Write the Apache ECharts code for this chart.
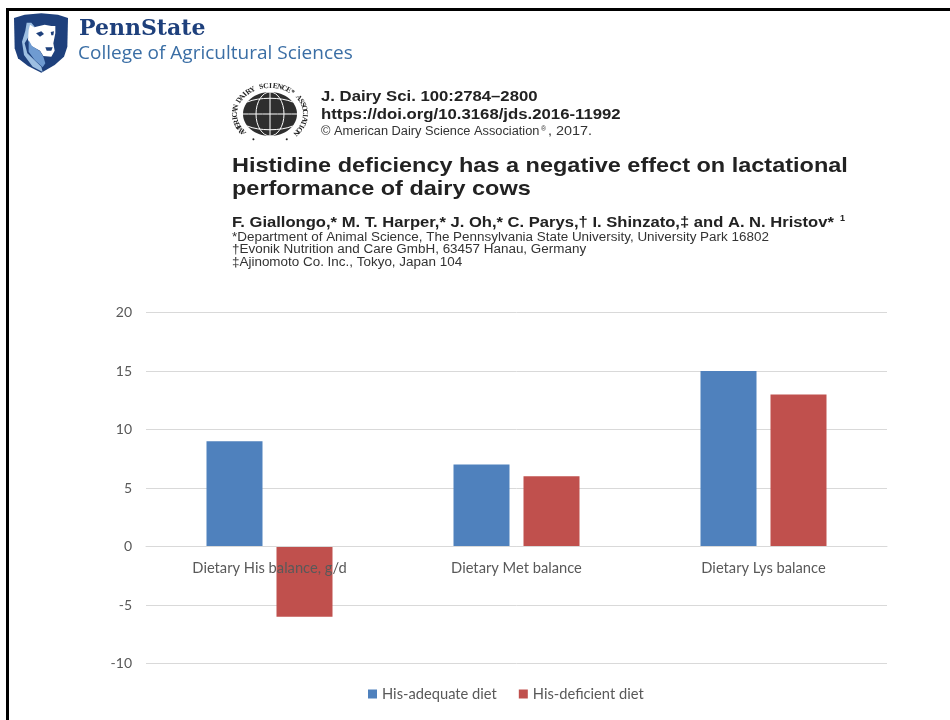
<!DOCTYPE html>
<html>
<head>
<meta charset="utf-8">
<style>
  html, body { margin: 0; padding: 0; background: #fff; }
  #chart { width: 950px; height: 720px; }
</style>
<script src="https://cdn.jsdelivr.net/npm/echarts@6/dist/echarts.min.js"></script>
</head>
<body>
<div id="chart"></div>
<script>
// Amino acid balance by diet
const categories = ['Dietary His balance, g/d', 'Dietary Met balance', 'Dietary Lys balance'];
const adequateName = 'His-adequate diet';
const deficientName = 'His-deficient diet';
const adequateValues = [9, 7, 15];
const deficientValues = [-6, 6, 13];

const headerFont = '"Liberation Sans", Arial, sans-serif';
const chartFont = 'Lato, "Open Sans", sans-serif';

// Frame lines along the top and left
const frame = [
  { type: 'rect', shape: { x: 6, y: 8, width: 944, height: 3 }, style: { fill: '#000' } },
  { type: 'rect', shape: { x: 6, y: 8, width: 3, height: 712 }, style: { fill: '#000' } }
];

// Shield outlines are authored on a 198-unit grid, three units per pixel
function poly(points, fill) {
  return {
    type: 'polygon',
    shape: { points: points.map(p => [8 + p[0] / 3, 10 + p[1] / 3]) },
    style: { fill }
  };
}

// University shield with a simplified lion head
const shield = [
  poly([[18, 24], [50, 14], [100, 10], [150, 14], [180, 24], [178, 110], [168, 140], [140, 165], [100, 188], [60, 168], [30, 145], [20, 115]], '#1e407c'),
  poly([[52, 62], [56, 38], [70, 38], [80, 50], [50, 100], [58, 130], [100, 170], [104, 186], [74, 170], [48, 135], [42, 95]], '#9dbfe2'),
  poly([[62, 60], [66, 44], [78, 52], [110, 44], [130, 48], [142, 48], [142, 70], [136, 100], [140, 122], [130, 140], [106, 138], [96, 122], [70, 108], [60, 90]], '#ffffff'),
  poly([[62, 90], [72, 108], [96, 124], [106, 140], [112, 160], [104, 172], [80, 150], [62, 125]], '#6f9bd1'),
  poly([[84, 70], [100, 64], [108, 72], [96, 80]], '#1e407c'),
  poly([[128, 66], [138, 64], [136, 76], [130, 76]], '#1e407c'),
  poly([[112, 112], [134, 112], [130, 122], [116, 122]], '#1e407c')
];

function label(text, x, y, font, fill, scaleX) {
  return { type: 'text', x, y, scaleX: scaleX || 1, style: { text, font, fill, verticalAlign: 'middle' } };
}

const brand = [
  label('PennState', 79, 29, 'bold 22px "DejaVu Serif", serif', '#1e407c'),
  label('College of Agricultural Sciences', 78, 54, '19px "Open Sans", sans-serif', '#3a6ea5')
];

// Society seal: a dark globe with grid lines and its name on an oval
const sealCx = 270, sealCy = 114, sealRx = 27, sealRy = 22;
const gridLine = { stroke: '#fff', lineWidth: 1 };
function latitude(y, bow) {
  const half = sealRx * Math.sqrt(1 - (y * y) / (sealRy * sealRy));
  return {
    type: 'bezierCurve',
    shape: {
      x1: sealCx - half, y1: sealCy + y,
      x2: sealCx + half, y2: sealCy + y,
      cpx1: sealCx - half / 2, cpy1: sealCy + y + bow,
      cpx2: sealCx + half / 2, cpy2: sealCy + y + bow
    },
    style: { fill: 'none', ...gridLine }
  };
}
const seal = [
  { type: 'ellipse', shape: { cx: sealCx, cy: sealCy, rx: sealRx, ry: sealRy }, style: { fill: '#2e2e2e' } },
  { type: 'ellipse', shape: { cx: sealCx, cy: sealCy, rx: 14, ry: sealRy }, style: { fill: 'none', ...gridLine } },
  { type: 'line', shape: { x1: sealCx, y1: sealCy - sealRy, x2: sealCx, y2: sealCy + sealRy }, style: gridLine },
  latitude(0, 0),
  latitude(-12, -5),
  latitude(12, 5)
];
const sealText = 'AMERICAN DAIRY SCIENCE* ASSOCIATION';
const sealTextRx = 35, sealTextRy = 28;
function sealGlyph(text, deg) {
  const a = deg * Math.PI / 180;
  return {
    type: 'text',
    x: sealCx + sealTextRx * Math.cos(a),
    y: sealCy + sealTextRy * Math.sin(a),
    rotation: -(a + Math.PI / 2),
    style: { text, font: 'bold 7.5px "Liberation Serif", serif', fill: '#222', align: 'center', verticalAlign: 'middle' }
  };
}
for (let i = 0; i < sealText.length; i++) {
  seal.push(sealGlyph(sealText[i], 140 + 262 * i / (sealText.length - 1)));
}
seal.push(sealGlyph('•', 118), sealGlyph('•', 62));

// Citation block above the plot
const citation = [
  label('J. Dairy Sci. 100:2784–2800', 321, 97, 'bold 14px ' + headerFont, '#222', 1.194),
  label('https://doi.org/10.3168/jds.2016-11992', 321, 115, 'bold 14px ' + headerFont, '#222', 1.196),
  label('© American Dairy Science Association', 321, 132, '12px ' + headerFont, '#333', 1.066),
  label('®', 541, 129, '7px ' + headerFont, '#333'),
  label(', 2017.', 548, 132, '12px ' + headerFont, '#333', 1.2),
  label('Histidine deficiency has a negative effect on lactational', 232, 166, 'bold 21px ' + headerFont, '#222', 1.118),
  label('performance of dairy cows', 232, 189, 'bold 21px ' + headerFont, '#222', 1.118),
  label('F. Giallongo,* M. T. Harper,* J. Oh,* C. Parys,† I. Shinzato,‡ and A. N. Hristov*', 232, 223, 'bold 14.5px ' + headerFont, '#222', 1.144),
  label('1', 840, 219, 'bold 9px ' + headerFont, '#222'),
  label('*Department of Animal Science, The Pennsylvania State University, University Park 16802', 232, 238, '12px ' + headerFont, '#333', 1.12),
  label('†Evonik Nutrition and Care GmbH, 63457 Hanau, Germany', 232, 250, '12px ' + headerFont, '#333', 1.12),
  label('‡Ajinomoto Co. Inc., Tokyo, Japan 104', 232, 263, '12px ' + headerFont, '#333', 1.12)
];

function barSeries(name, values, color) {
  return {
    name,
    type: 'bar',
    data: values,
    barWidth: 56,
    barGap: '25%',
    itemStyle: { color },
    z: 1
  };
}

const chart = echarts.init(document.getElementById('chart'), null, { renderer: 'canvas' });
chart.setOption({
  animation: false,
  backgroundColor: '#fff',
  textStyle: { fontFamily: chartFont },
  grid: { left: 146, right: 63, top: 312.5, height: 351, containLabel: false },
  legend: {
    top: 686.5,
    left: 368,
    padding: 0,
    itemWidth: 9,
    itemHeight: 9,
    itemGap: 22,
    icon: 'rect',
    data: [adequateName, deficientName],
    textStyle: { fontFamily: chartFont, fontSize: 14.7, color: '#595959' }
  },
  xAxis: {
    type: 'category',
    data: categories,
    axisTick: { show: false },
    axisLine: { onZero: true, lineStyle: { color: '#d9d9d9', width: 1 } },
    // Labels sit just under the zero line, so the margin reaches up from the grid's bottom edge
    axisLabel: { fontFamily: chartFont, fontSize: 14.7, color: '#595959', margin: -103 },
    z: 5
  },
  yAxis: {
    type: 'value',
    min: -10,
    max: 20,
    interval: 5,
    axisLine: { show: true, lineStyle: { color: 'transparent' } },
    axisTick: { show: false },
    axisLabel: { fontFamily: chartFont, fontSize: 14, color: '#595959', margin: 14 },
    splitLine: { lineStyle: { color: '#d9d9d9', width: 1 } }
  },
  series: [
    barSeries(adequateName, adequateValues, '#4f81bd'),
    barSeries(deficientName, deficientValues, '#c0504d')
  ],
  graphic: { elements: [...frame, ...shield, ...brand, ...seal, ...citation] }
});
</script>
</body>
</html>
